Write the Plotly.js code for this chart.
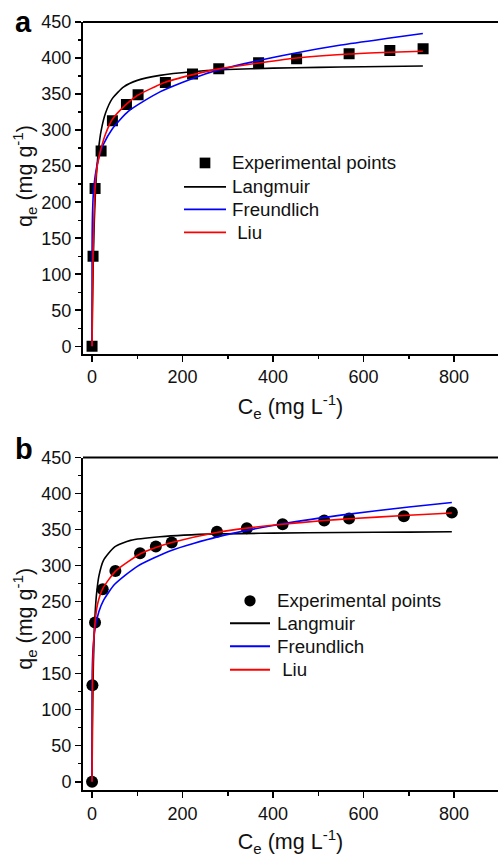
<!DOCTYPE html>
<html>
<head>
<meta charset="utf-8">
<script src="https://cdn.plot.ly/plotly-3.0.1.min.js"></script>
<style>html,body{margin:0;padding:0;background:#fff;overflow:hidden}#chart{width:498px;height:857px}</style>
</head>
<body>
<div id="chart"></div>
<script>
// Panel a — experimental points and fitted curves
const expA_x = [0, 2.2, 6.7, 20, 45, 76, 101.7, 162, 222, 280, 368, 452, 568, 658, 731.5];
const expA_y = [0, 125, 219, 271, 313, 335.5, 349, 366, 378, 385, 393.5, 399, 406, 410.5, 413];
const langA_x = [0, 0.5, 1, 2, 3, 5, 7, 10, 15, 20, 30, 45, 70, 100, 150, 220, 300, 400, 500, 600, 731];
const langA_y = [0, 29, 54, 95, 127, 174, 207, 241, 277, 299, 324, 344, 360, 369, 376, 381, 384, 386, 387, 388, 389];
const freA_x = [0, 0.05, 0.3, 1, 3, 7, 15, 25, 45, 80, 150, 250, 350, 450, 550, 650, 731];
const freA_y = [0, 125, 158, 184, 213, 237, 262, 280, 302, 326, 353, 378, 394, 407, 418, 427, 434];
const liuA_x = [0, 0.5, 1, 2.2, 4, 6.7, 10, 15, 20, 30, 45, 76, 100, 160, 223, 280, 368, 452, 568, 658, 731];
const liuA_y = [0, 45, 75, 125, 175, 219, 244, 262, 275, 295, 315, 336, 348, 366, 377, 385, 393, 400, 405.5, 408, 409.5];

// Panel b
const expB_x = [0, 0.8, 6.6, 23.6, 51.5, 106, 141, 176, 276, 342, 421, 513, 568, 689, 795];
const expB_y = [0, 134, 221, 267, 292.5, 317, 326.5, 332, 347, 352, 357.5, 362.5, 365.3, 368.6, 373.6];
const langB_x = [0, 0.5, 1, 2, 3, 5, 7, 10, 15, 25, 50, 85, 150, 275, 400, 550, 700, 795];
const langB_y = [0, 45, 80, 131, 165, 209, 236, 261, 285, 307, 326, 335, 340, 344, 345, 346, 346.5, 347];
const freB_x = [0, 0.05, 0.5, 2, 6.6, 15, 25, 50, 100, 175, 275, 400, 550, 700, 795];
const freB_y = [0, 116, 154, 183, 213, 236, 251.5, 274, 299, 321, 339.5, 355.7, 370, 381.4, 387.5];
const liuB_x = [0, 0.4, 1, 3, 6.6, 12, 23.6, 51.5, 106, 141, 176, 275, 342, 421, 513, 568, 689, 795];
const liuB_y = [0, 70, 134, 185, 221, 246, 268, 292, 316, 325, 332, 346, 352, 357.5, 362.5, 365, 369.5, 373];

const seriesNames = ['Experimental points', 'Langmuir', 'Freundlich', ' Liu'];
const seriesColors = ['#000000', '#000000', '#0000ff', '#ff0000'];
const xTitle = 'C<sub>e</sub> (mg L<sup>-1</sup>)';
const yTitle = 'q<sub>e</sub> (mg g<sup>-1</sup>)';
const xTicks = [0, 200, 400, 600, 800];
const yTicks = [0, 50, 100, 150, 200, 250, 300, 350, 400, 450];

const FONT = 'Liberation Sans, Arial, sans-serif';
const lw = 1.6;

function lineTrace(x, y, i, xa, ya) {
  return {x, y, name: seriesNames[i], type: 'scatter', mode: 'lines', xaxis: xa, yaxis: ya,
    line: {color: seriesColors[i], width: lw, shape: 'spline', smoothing: 0.6}};
}

const data = [
  {x: expA_x, y: expA_y, name: seriesNames[0], type: 'scatter', mode: 'markers', xaxis: 'x', yaxis: 'y',
   marker: {symbol: 'square', size: 11, color: '#000'}},
  lineTrace(langA_x, langA_y, 1, 'x', 'y'),
  lineTrace(freA_x, freA_y, 2, 'x', 'y'),
  lineTrace(liuA_x, liuA_y, 3, 'x', 'y'),
  {x: expB_x, y: expB_y, name: seriesNames[0], type: 'scatter', mode: 'markers', xaxis: 'x2', yaxis: 'y2',
   marker: {symbol: 'circle', size: 12, color: '#000'}},
  lineTrace(langB_x, langB_y, 1, 'x2', 'y2'),
  lineTrace(freB_x, freB_y, 2, 'x2', 'y2'),
  lineTrace(liuB_x, liuB_y, 3, 'x2', 'y2')
];

function xaxis(anchor) {
  return {anchor, domain: [0, 1], range: [-20, 897], tickvals: xTicks, ticktext: xTicks.map(String),
    ticks: 'outside', ticklen: 6, tickwidth: 1.6, tickcolor: '#000',
    minor: {tickvals: [100, 300, 500, 700], ticks: 'outside', ticklen: 3.5, tickwidth: 1.4, tickcolor: '#000'},
    showline: true, linewidth: 2, linecolor: '#000', showgrid: false, zeroline: false,
    tickfont: {size: 18, color: '#111'}, title: {text: xTitle, font: {size: 21.5, color: '#111'}, standoff: 13},
    automargin: false};
}
function yaxis(anchor, domain, rmin) {
  return {anchor, domain, range: [rmin, 450], tickvals: yTicks, ticktext: yTicks.map(String),
    ticks: 'outside', ticklen: 6, tickwidth: 1.6, tickcolor: '#000',
    minor: {dtick: 25, tick0: 0, ticks: 'outside', ticklen: 3.5, tickwidth: 1.4, tickcolor: '#000'},
    showline: true, linewidth: 2, linecolor: '#000', showgrid: false, zeroline: false,
    tickfont: {size: 18, color: '#111'}, automargin: false};
}

// plot-area geometry (px) used to place the panel legends and labels
const L = 83, W = 415, T = 22, H = 768.3;
const px2x = p => (p - L) / W;
const px2y = p => (T + H - p) / H;

const domA = [0.5683, 1];
const domB = [0, 0.4329];

const shapes = [
  {type: 'line', xref: 'paper', yref: 'paper', x0: 0, x1: 1, y0: domA[1], y1: domA[1], line: {color: '#000', width: 2}},
  {type: 'line', xref: 'paper', yref: 'paper', x0: 0, x1: 1, y0: domB[1], y1: domB[1], line: {color: '#000', width: 2}}
];
const annotations = [
  {text: '<b>a</b>', xref: 'paper', yref: 'paper', x: px2x(13), y: px2y(21.5), xanchor: 'left', yanchor: 'middle',
   showarrow: false, font: {size: 29, color: '#000'}},
  {text: '<b>b</b>', xref: 'paper', yref: 'paper', x: px2x(13), y: px2y(449.5), xanchor: 'left', yanchor: 'middle',
   showarrow: false, font: {size: 29, color: '#000'}},
  // y-axis titles
  {text: yTitle, xref: 'paper', yref: 'paper', x: px2x(25), y: px2y(176), xanchor: 'center', yanchor: 'middle',
   textangle: -90, showarrow: false, font: {size: 21.5, color: '#111'}},
  {text: yTitle, xref: 'paper', yref: 'paper', x: px2x(25), y: px2y(619), xanchor: 'center', yanchor: 'middle',
   textangle: -90, showarrow: false, font: {size: 21.5, color: '#111'}}
];

function addLegend(cfg) {
  const {mx, lx0, lx1, tx, ys, marker, msize} = cfg;
  const hx = msize / 2 / W, hy = msize / 2 / H;
  shapes.push({type: marker, xref: 'paper', yref: 'paper',
    x0: px2x(mx) - hx, x1: px2x(mx) + hx, y0: px2y(ys[0]) - hy, y1: px2y(ys[0]) + hy,
    fillcolor: '#000', line: {width: 0}});
  for (let i = 1; i < 4; i++) {
    shapes.push({type: 'line', xref: 'paper', yref: 'paper', x0: px2x(lx0), x1: px2x(lx1),
      y0: px2y(ys[i]), y1: px2y(ys[i]), line: {color: seriesColors[i], width: 1.8}});
  }
  for (let i = 0; i < 4; i++) {
    annotations.push({text: seriesNames[i].replace(/^ /, '&nbsp;'), xref: 'paper', yref: 'paper',
      x: px2x(tx - 2), y: px2y(ys[i]), xanchor: 'left', yanchor: 'middle', showarrow: false,
      font: {size: 18.7, color: '#111'}});
  }
}
addLegend({mx: 205, lx0: 184, lx1: 226, tx: 231.5, ys: [163, 187, 209.5, 232.5], marker: 'rect', msize: 10.7});
addLegend({mx: 250, lx0: 230, lx1: 270, tx: 276.5, ys: [601, 623.5, 646.5, 670], marker: 'circle', msize: 11.3});

const layout = {
  width: 498, height: 857,
  margin: {l: 83, r: 0, t: 22, b: 67},
  paper_bgcolor: '#fff', plot_bgcolor: '#fff',
  font: {family: FONT, color: '#111', size: 18},
  showlegend: false,
  xaxis: xaxis('y'),
  yaxis: yaxis('x', domA, -10),
  xaxis2: xaxis('y2'),
  yaxis2: yaxis('x2', domB, -11.5),
  shapes, annotations
};

Plotly.newPlot('chart', data, layout, {displayModeBar: false, staticPlot: true});
</script>
</body>
</html>
